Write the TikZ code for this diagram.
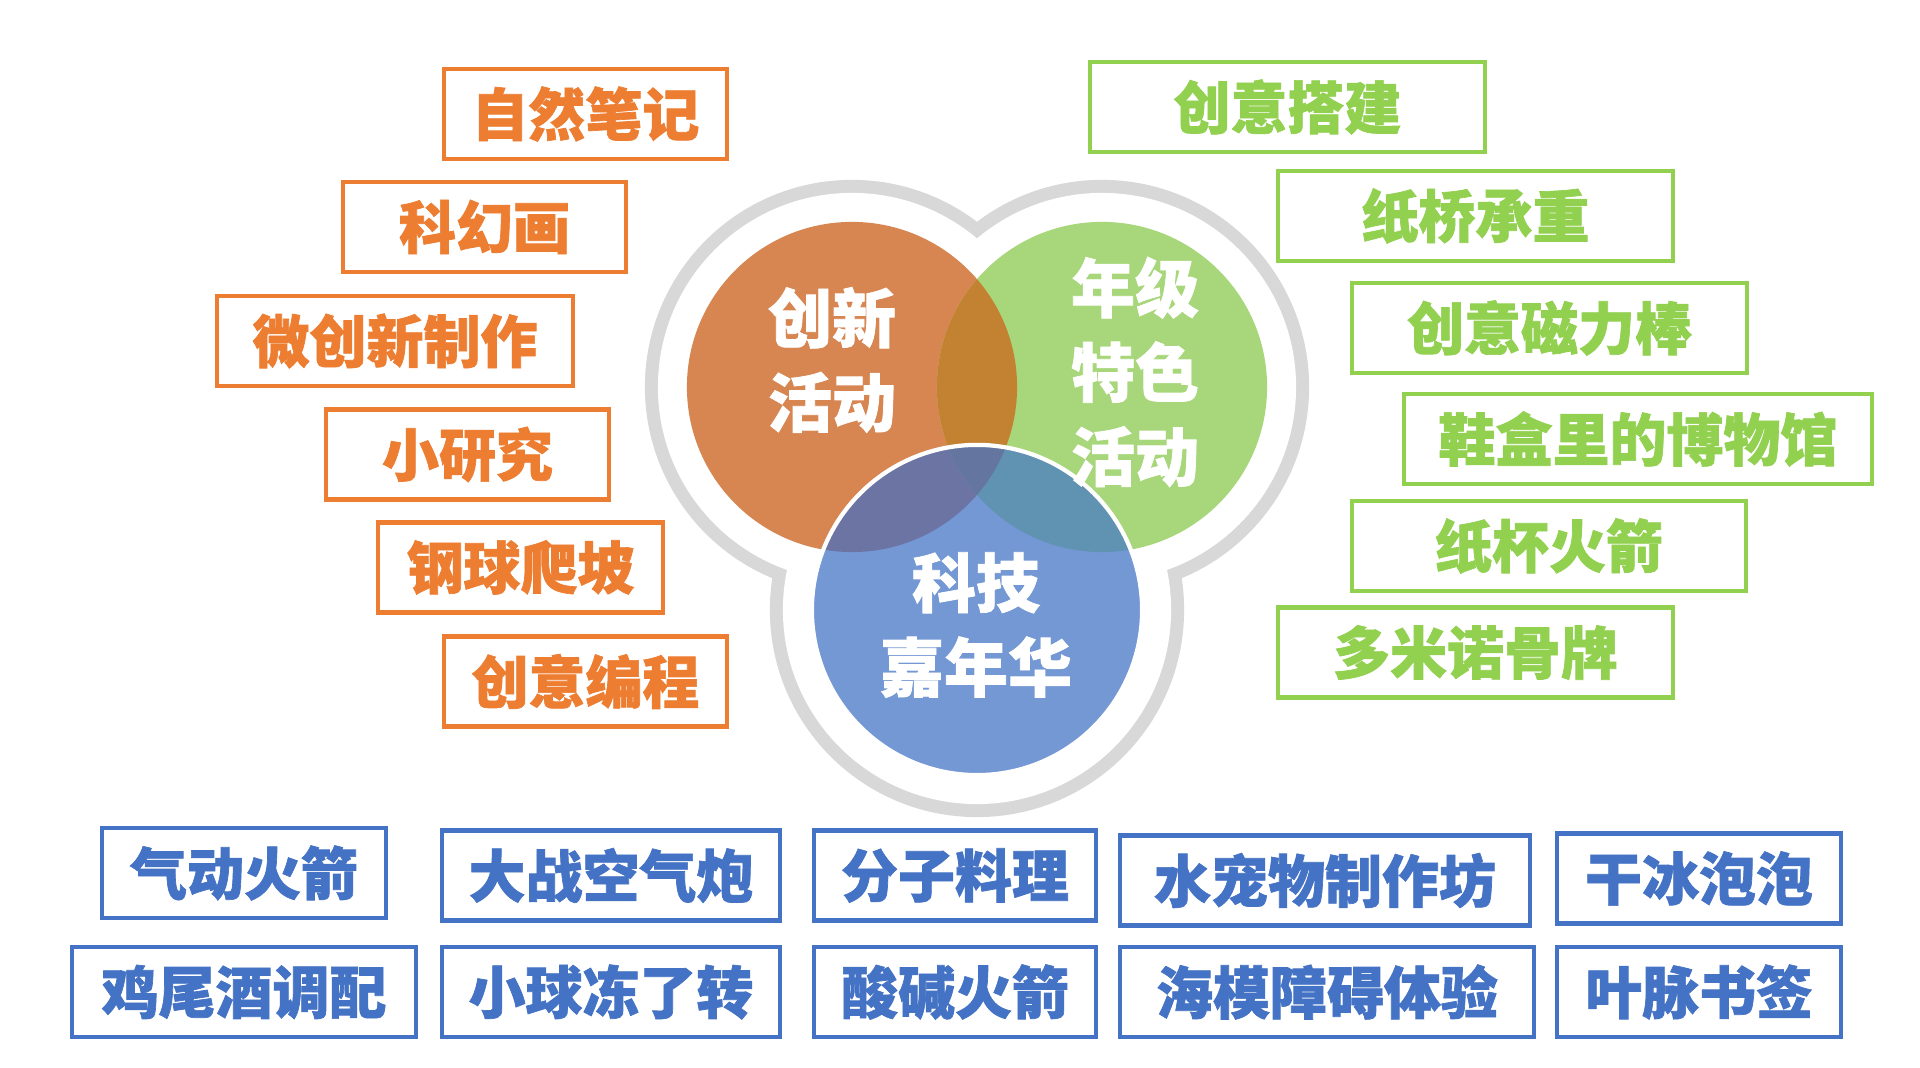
\documentclass[tikz,border=0pt]{standalone}
\usepackage{fontspec}
\newfontfamily\cjk{Noto Sans CJK SC}[BoldFeatures={FakeBold=1.2}]
\usetikzlibrary{calc}

\definecolor{boxorange}{RGB}{237,125,49}
\definecolor{boxgreen}{RGB}{146,208,80}
\definecolor{boxblue}{RGB}{68,114,196}
\definecolor{ringgray}{RGB}{216,216,216}
\definecolor{fillorange}{RGB}{215,134,82}
\definecolor{fillgreen}{RGB}{168,214,122}
\definecolor{fillblue}{RGB}{115,152,212}
\definecolor{mixog}{RGB}{195,130,50}
\definecolor{mixob}{RGB}{108,116,164}
\definecolor{mixgb}{RGB}{96,146,178}
\definecolor{mixall}{RGB}{100,118,160}

\tikzset{
  itembox/.style={draw, line width=1.3pt, fill=white, minimum height=0.9cm, inner sep=0pt,
    font=\cjk\bfseries\fontsize{16.2}{19}\selectfont},
  orangebox/.style={itembox, draw=boxorange, text=boxorange},
  greenbox/.style={itembox, draw=boxgreen, text=boxgreen},
  bluebox/.style={itembox, draw=boxblue, text=boxblue},
  circlelabel/.style={text=white, align=center, inner sep=0pt,
    font=\cjk\bfseries\fontsize{18.2}{24}\selectfont},
}

\begin{document}
\begin{tikzpicture}[x=0.01cm, y=-0.01cm]
\useasboundingbox[fill=white] (0,0) rectangle (1920,1068);
\coordinate (co) at (852,387); %%Orange centre
\coordinate (cg) at (1102,387); %%Green centre
\coordinate (cb) at (977,610); %%Blue centre

%% grey ring round the three circles
\fill[ringgray] (co) circle[radius=2.07cm] (cg) circle[radius=2.07cm] (cb) circle[radius=2.07cm];
\fill[white] (co) circle[radius=1.94cm] (cg) circle[radius=1.94cm] (cb) circle[radius=1.94cm];

%% circles and their overlaps
\fill[fillorange] (co) circle[radius=1.65cm];
\fill[fillgreen] (cg) circle[radius=1.65cm];
\begin{scope}
\clip (co) circle[radius=1.65cm];
\fill[mixog] (cg) circle[radius=1.65cm];
\end{scope}
\fill[fillblue] (cb) circle[radius=1.65cm];
\begin{scope}
\clip (cb) circle[radius=1.65cm];
\fill[mixob] (co) circle[radius=1.65cm];
\fill[mixgb] (cg) circle[radius=1.65cm];
\clip (co) circle[radius=1.65cm];
\fill[mixall] (cg) circle[radius=1.65cm];
\end{scope}
\draw[white, line width=1.2pt] (cb) circle[radius=1.65cm];

\node[circlelabel] (chuangxin) at (832,360) {创新\\活动};
\node[circlelabel] (nianji) at (1135,372) {年级\\特色\\活动};
\node[circlelabel] (keji) at (976,625) {科技\\嘉年华};

%% orange items, left
\node[orangebox, minimum width=2.83cm] (ziran) at (585.5,114) {自然笔记};
\node[orangebox, minimum width=2.83cm] (kehuan) at (484.5,227) {科幻画};
\node[orangebox, minimum width=3.56cm] (weichuang) at (395,341) {微创新制作};
\node[orangebox, minimum width=2.83cm] (xiaoyan) at (467.5,454.5) {小研究};
\node[orangebox, minimum width=2.85cm] (gangqiu) at (520.5,567.5) {钢球爬坡};
\node[orangebox, minimum width=2.83cm] (biancheng) at (585.5,681.5) {创意编程};

%% green items, right
\node[greenbox, minimum width=3.95cm] (dajian) at (1287.5,107) {创意搭建};
\node[greenbox, minimum width=3.95cm] (zhiqiao) at (1475.5,216) {纸桥承重};
\node[greenbox, minimum width=3.95cm] (cili) at (1549.5,328) {创意磁力棒};
\node[greenbox, minimum width=4.68cm] (xiehe) at (1638,439) {鞋盒里的博物馆};
\node[greenbox, minimum width=3.94cm] (zhibei) at (1549,546) {纸杯火箭};
\node[greenbox, minimum width=3.95cm] (duomino) at (1475.5,652.5) {多米诺骨牌};

%% blue items, bottom
\node[bluebox, minimum width=2.84cm] (qidong) at (244,873) {气动火箭};
\node[bluebox, minimum width=3.38cm] (dazhan) at (611,875.5) {大战空气炮};
\node[bluebox, minimum width=2.82cm] (fenzi) at (955,875.5) {分子料理};
\node[bluebox, minimum width=4.10cm] (shuichong) at (1325,880.5) {水宠物制作坊};
\node[bluebox, minimum width=2.84cm] (ganbing) at (1699,878.5) {干冰泡泡};
\node[bluebox, minimum width=3.44cm] (jiwei) at (244,992) {鸡尾酒调配};
\node[bluebox, minimum width=3.38cm] (xiaoqiu) at (611,992) {小球冻了转};
\node[bluebox, minimum width=2.82cm] (suanjian) at (955,992) {酸碱火箭};
\node[bluebox, minimum width=4.14cm] (haimo) at (1327,992) {海模障碍体验};
\node[bluebox, minimum width=2.84cm] (yemai) at (1699,992) {叶脉书签};
\end{tikzpicture}
\end{document}
